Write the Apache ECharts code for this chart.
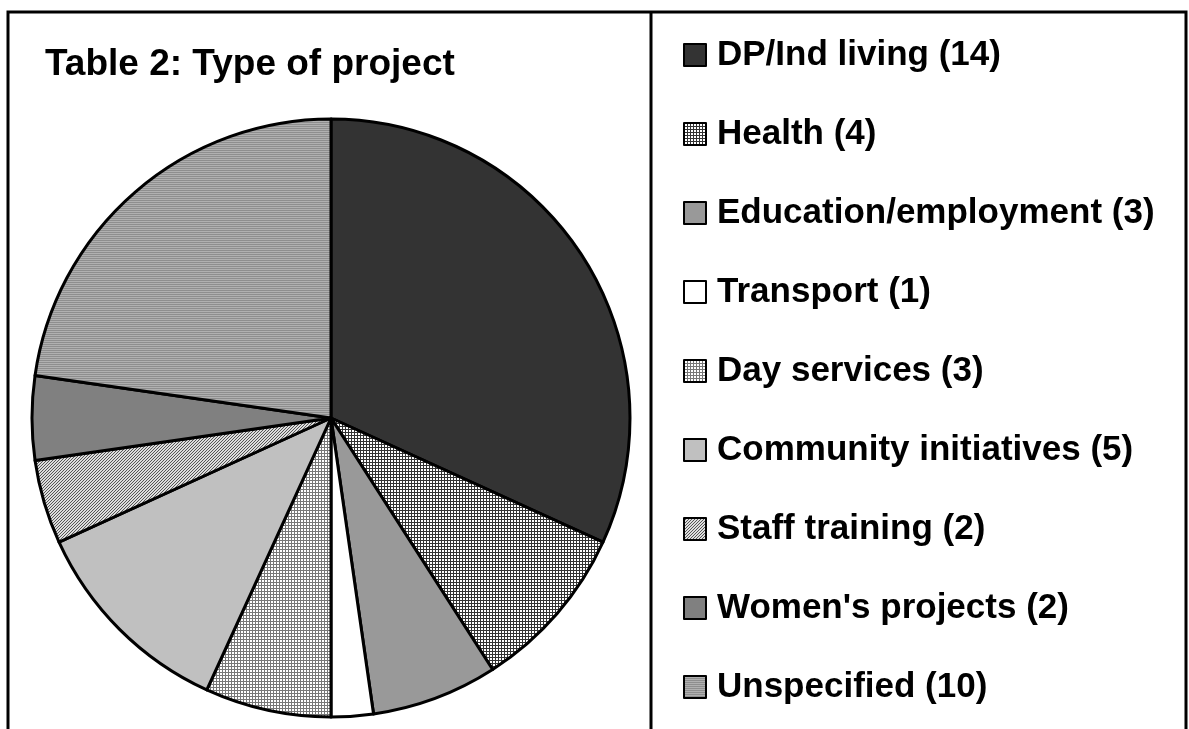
<!DOCTYPE html>
<html>
<head>
<meta charset="utf-8">
<script src="https://cdn.jsdelivr.net/npm/echarts@6/dist/echarts.min.js"></script>
<style>
  html, body { margin: 0; padding: 0; background: #fff; }
  #chart { width: 1189px; height: 729px; }
</style>
</head>
<body>
<div id="chart"></div>
<script>
// data
const categories = ['DP/Ind living', 'Health', 'Education/employment', 'Transport', 'Day services',
  'Community initiatives', 'Staff training', "Women's projects", 'Unspecified'];
const counts = [14, 4, 3, 1, 3, 5, 2, 2, 10];

// small canvas tiles for the hatched fills
function tile(w, h, draw) {
  const c = document.createElement('canvas');
  c.width = w;
  c.height = h;
  const ctx = c.getContext('2d');
  draw(ctx);
  return { image: c, repeat: 'repeat' };
}

const healthFill = tile(3, 3, ctx => {
  ctx.fillStyle = '#fff'; ctx.fillRect(0, 0, 3, 3);
  ctx.fillStyle = '#333'; ctx.fillRect(0, 0, 3, 1); ctx.fillRect(0, 0, 1, 3);
});
const dayFill = tile(3, 3, ctx => {
  ctx.fillStyle = '#fff'; ctx.fillRect(0, 0, 3, 3);
  ctx.fillStyle = '#777'; ctx.fillRect(0, 0, 3, 1); ctx.fillRect(0, 0, 1, 3);
});
const staffFill = tile(3, 3, ctx => {
  ctx.fillStyle = '#ddd'; ctx.fillRect(0, 0, 3, 3);
  ctx.fillStyle = '#555';
  for (let i = 0; i < 3; i++) ctx.fillRect(i, 2 - i, 1, 1);
});
const unspecFill = tile(2, 2, ctx => {
  ctx.fillStyle = '#b0b0b0'; ctx.fillRect(0, 0, 2, 2);
  ctx.fillStyle = '#8e8e8e'; ctx.fillRect(0, 0, 2, 1);
});

const fills = ['#333333', healthFill, '#999999', '#ffffff', dayFill, '#c0c0c0', staffFill, '#808080', unspecFill];

const chart = echarts.init(document.getElementById('chart'), null, { renderer: 'canvas' });

const option = {
  animation: false,
  backgroundColor: '#fff',
  title: {
    text: 'Table 2: Type of project',
    left: 45,
    top: 46,
    padding: 0,
    textStyle: {
      fontFamily: 'Liberation Sans',
      fontWeight: 'bold',
      fontSize: 37,
      color: '#000'
    }
  },
  legend: {
    orient: 'vertical',
    left: 683,
    top: 33,
    padding: 0,
    itemWidth: 22,
    itemHeight: 22,
    itemGap: 35,
    selectedMode: false,
    icon: 'rect',
    itemStyle: { borderColor: '#000', borderWidth: 2 },
    formatter: name => name + ' (' + counts[categories.indexOf(name)] + ')',
    textStyle: {
      fontFamily: 'Liberation Sans',
      fontWeight: 'bold',
      fontSize: 35,
      lineHeight: 40,
      color: '#000',
      padding: [4, 0, 0, 6]
    },
    data: categories
  },
  graphic: [
    {
      type: 'rect',
      shape: { x: 8, y: 12, width: 1178, height: 760 },
      style: { fill: 'none', stroke: '#000', lineWidth: 3 },
      silent: true
    },
    {
      type: 'line',
      shape: { x1: 651, y1: 12, x2: 651, y2: 729 },
      style: { stroke: '#000', lineWidth: 3 },
      silent: true
    }
  ],
  series: [
    {
      type: 'pie',
      center: [331, 418],
      radius: 299,
      startAngle: 90,
      clockwise: true,
      label: { show: false },
      labelLine: { show: false },
      emphasis: { disabled: true },
      itemStyle: { borderColor: '#000', borderWidth: 3 },
      data: categories.map((name, i) => ({
        name,
        value: counts[i],
        itemStyle: { color: fills[i] }
      }))
    }
  ]
};

chart.setOption(option);
</script>
</body>
</html>
